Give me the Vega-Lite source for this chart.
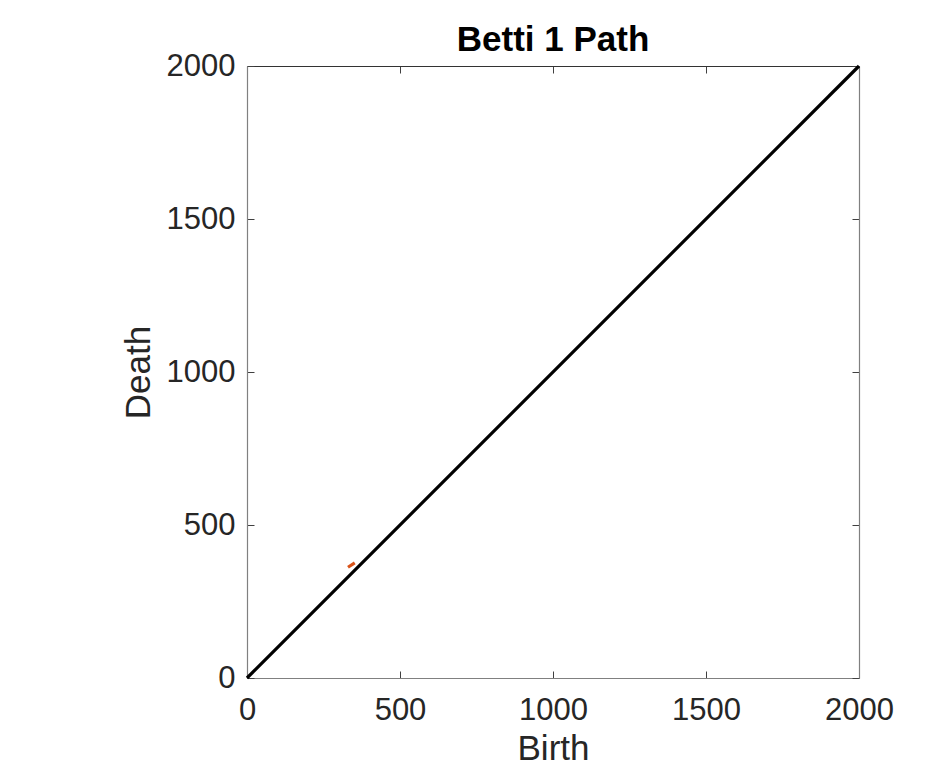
{
  "$schema": "https://vega.github.io/schema/vega-lite/v6.json",
  "autosize": "none",
  "width": 612,
  "height": 612,
  "padding": {"left": 247, "top": 66, "right": 69, "bottom": 88},
  "background": "white",
  "title": {
    "text": "Betti 1 Path",
    "font": "Liberation Sans",
    "fontSize": 35,
    "fontWeight": "bold",
    "color": "#000000",
    "offset": -8,
    "anchor": "middle"
  },
  "config": {
    "view": {"stroke": null},
    "axis": {
      "grid": false,
      "domainColor": "#808080",
      "domainWidth": 1.2,
      "tickColor": "#404040",
      "tickSize": -7,
      "tickWidth": 1,
      "format": "d",
      "labelFont": "Liberation Sans",
      "labelFontSize": 31,
      "labelColor": "#262626",
      "titleFont": "Liberation Sans",
      "titleFontSize": 35,
      "titleFontWeight": "normal",
      "titleColor": "#262626"
    }
  },
  "datasets": {
    "diag": [
      {"birth": 0, "death": 0},
      {"birth": 2000, "death": 2000}
    ],
    "path": [
      {"birth": 330, "death": 362},
      {"birth": 352, "death": 376}
    ]
  },
  "resolve": {"axis": {"x": "independent", "y": "independent"}},
  "layer": [
    {
      "data": {"name": "diag"},
      "mark": {"type": "line", "color": "#000000", "strokeWidth": 3.2},
      "encoding": {
        "x": {
          "field": "birth", "type": "quantitative",
          "scale": {"domain": [0, 2000], "nice": false},
          "axis": {"orient": "bottom", "title": "Birth", "values": [0, 500, 1000, 1500, 2000], "labelPadding": 24, "titlePadding": 6, "labelFlush": false, "labelOverlap": false}
        },
        "y": {
          "field": "death", "type": "quantitative",
          "scale": {"domain": [0, 2000], "nice": false},
          "axis": {"orient": "left", "title": "Death", "values": [0, 500, 1000, 1500, 2000], "labelPadding": 19, "titlePadding": 10, "labelFlush": false, "labelOverlap": false}
        }
      }
    },
    {
      "data": {"name": "path"},
      "mark": {"type": "line", "color": "#D95319", "strokeWidth": 3.2},
      "encoding": {
        "x": {
          "field": "birth", "type": "quantitative",
          "scale": {"domain": [0, 2000], "nice": false},
          "axis": {"orient": "top", "title": null, "labels": false, "values": [0, 500, 1000, 1500, 2000], "domainColor": "#333333"}
        },
        "y": {
          "field": "death", "type": "quantitative",
          "scale": {"domain": [0, 2000], "nice": false},
          "axis": {"orient": "right", "title": null, "labels": false, "values": [0, 500, 1000, 1500, 2000]}
        }
      }
    }
  ]
}
